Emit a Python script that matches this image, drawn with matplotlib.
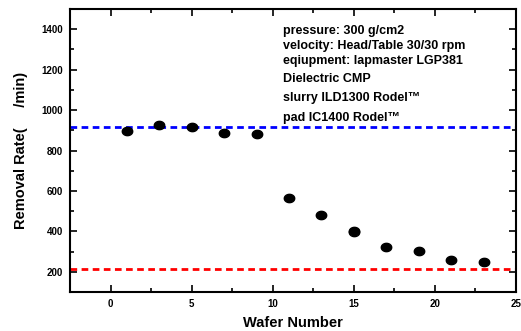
import numpy as np
import matplotlib.pyplot as plt
from matplotlib.path import Path
from matplotlib.ticker import MultipleLocator

plt.rcParams['font.family'] = ['Liberation Sans', 'DejaVu Sans']
plt.rcParams['font.weight'] = 'bold'

# data
wafer = [1, 3, 5, 7, 9, 11, 13, 15, 17, 19, 21, 23]
rate = [898, 927, 918, 888, 880, 563, 483, 404, 325, 305, 256, 246]
wafer_open = [15]
rate_open = [395]
upper_ref = 914
lower_ref = 214

notes = ["pressure: 300 g/cm2",
         "velocity: Head/Table 30/30 rpm",
         "eqiupment: lapmaster LGP381",
         "Dielectric CMP",
         "slurry ILD1300 Rodel\u2122",
         "pad IC1400 Rodel\u2122"]
note_y = [0.921, 0.871, 0.818, 0.751, 0.687, 0.616]

# slightly flattened circle marker
t = np.linspace(0, 2 * np.pi, 60)
ellipse = Path(np.column_stack([np.cos(t), 0.8 * np.sin(t)]), closed=True)

fig = plt.figure(figsize=(5.21, 3.31), dpi=100)
ax = fig.add_axes([0.1344, 0.1178, 0.8560, 0.8550])

ax.axhline(upper_ref, color='#0000ff', lw=2, dashes=(2.4, 1.6))
ax.axhline(lower_ref, color='#ff0000', lw=2, dashes=(2.4, 1.6))

ax.plot(wafer_open, rate_open, ls='none', marker=ellipse, ms=7.5,
        mfc='white', mec='black', mew=1)
ax.plot(wafer, rate, ls='none', marker=ellipse, ms=7.5, color='black')

ax.set_xlim(-2.5, 25)
ax.set_ylim(100, 1500)
ax.xaxis.set_major_locator(MultipleLocator(5))
ax.xaxis.set_minor_locator(MultipleLocator(2.5))
ax.yaxis.set_major_locator(MultipleLocator(200))
ax.yaxis.set_minor_locator(MultipleLocator(100))
ax.set_yticks([200, 400, 600, 800, 1000, 1200, 1400])
ax.tick_params(which='both', direction='in', top=True, right=True,
               labelsize=7, width=1.2)
ax.tick_params(which='major', length=5, pad=5)
ax.tick_params(which='minor', length=3)
for lab in ax.get_xticklabels() + ax.get_yticklabels():
    lab.set_fontweight('bold')
for s in ax.spines.values():
    s.set_linewidth(1.5)

ax.set_xlabel("Wafer Number", fontsize=10.5, fontweight='bold', labelpad=5)
ax.set_ylabel("Removal Rate(     /min)", fontsize=10.5, fontweight='bold', labelpad=10)

for txt, yy in zip(notes, note_y):
    ax.text(0.4776, yy, txt, transform=ax.transAxes, fontsize=9,
            fontweight='bold', va='center', ha='left')

fig.savefig("out.png", dpi=100)
